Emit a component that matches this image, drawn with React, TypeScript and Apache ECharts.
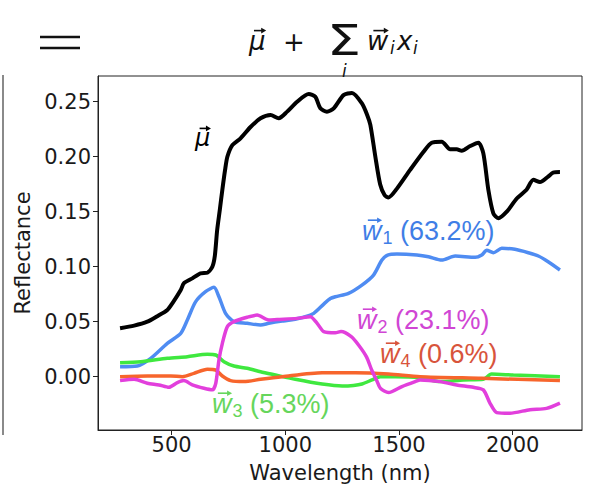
import React, { useEffect, useRef } from "react";
import * as echarts from "echarts";

// ---------- data ----------
const muWl = [273, 335, 393, 437, 481, 503, 540, 554, 591, 627, 657, 679, 690, 700, 712, 723, 735, 745, 767, 803, 847, 891, 935, 971, 1008, 1052, 1103, 1132, 1154, 1183, 1213, 1256, 1293, 1337, 1360, 1374, 1396, 1417, 1437, 1454, 1491, 1549, 1608, 1644, 1688, 1725, 1754, 1776, 1813, 1849, 1871, 1893, 1915, 1937, 1974, 2018, 2061, 2091, 2120, 2156, 2178, 2208];
const muVal = [0.044, 0.0464, 0.05, 0.055, 0.0606, 0.0667, 0.0788, 0.085, 0.0894, 0.094, 0.0945, 0.1, 0.11, 0.133, 0.152, 0.17, 0.188, 0.2, 0.2106, 0.2167, 0.227, 0.235, 0.238, 0.235, 0.241, 0.25, 0.257, 0.2545, 0.244, 0.241, 0.244, 0.256, 0.258, 0.2485, 0.238, 0.229, 0.2, 0.175, 0.165, 0.163, 0.171, 0.188, 0.2045, 0.2127, 0.2136, 0.2067, 0.2067, 0.2054, 0.2097, 0.2127, 0.203, 0.17, 0.1485, 0.144, 0.15, 0.162, 0.17, 0.179, 0.177, 0.182, 0.1855, 0.186];

const w1Wl = [273, 349, 408, 481, 540, 569, 605, 649, 686, 708, 737, 774, 832, 891, 927, 986, 1022, 1088, 1125, 1169, 1198, 1220, 1278, 1337, 1388, 1425, 1450, 1491, 1579, 1630, 1688, 1747, 1835, 1864, 1886, 1915, 1952, 2010, 2069, 2113, 2156, 2208];
const w1Val = [0.0091, 0.0097, 0.0167, 0.0303, 0.0394, 0.0515, 0.068, 0.0773, 0.0812, 0.0727, 0.0576, 0.05, 0.0485, 0.047, 0.0485, 0.0505, 0.0515, 0.0545, 0.0576, 0.066, 0.071, 0.0727, 0.0758, 0.0833, 0.0924, 0.106, 0.1105, 0.1115, 0.1106, 0.109, 0.106, 0.1097, 0.1085, 0.1106, 0.115, 0.1127, 0.1167, 0.1158, 0.1127, 0.1097, 0.1045, 0.097];

const w2Wl = [273, 335, 393, 444, 488, 525, 554, 591, 642, 679, 694, 708, 723, 745, 774, 832, 876, 927, 964, 1052, 1110, 1140, 1169, 1220, 1245, 1290, 1322, 1357, 1380, 1403, 1418, 1454, 1513, 1571, 1593, 1681, 1754, 1827, 1871, 1900, 1930, 1988, 2076, 2149, 2208];
const w2Val = [-0.0036, -0.0024, -0.006, -0.0075, -0.0097, -0.0055, -0.0036, -0.0075, -0.0106, -0.012, -0.006, 0.0152, 0.0303, 0.0455, 0.05, 0.054, 0.056, 0.0515, 0.052, 0.053, 0.0545, 0.0485, 0.041, 0.04, 0.041, 0.0364, 0.0288, 0.018, 0.006, -0.004, -0.0106, -0.0145, -0.009, -0.0045, -0.003, -0.0045, -0.0075, -0.0097, -0.012, -0.024, -0.0327, -0.0333, -0.03, -0.0288, -0.024];

const w3Wl = [273, 364, 481, 569, 657, 694, 730, 774, 832, 891, 957, 1044, 1162, 1250, 1300, 1337, 1381, 1418, 1484, 1593, 1681, 1783, 1871, 1907, 2003, 2208];
const w3Val = [0.0127, 0.0136, 0.0167, 0.0182, 0.0203, 0.0197, 0.0136, 0.0097, 0.0076, 0.0045, 0.0015, -0.0024, -0.0067, -0.0085, -0.008, -0.0067, -0.003, 0.0, 0.0, -0.001, -0.0045, -0.003, -0.0024, 0.0024, 0.0015, 0.0];

const w4Wl = [273, 393, 496, 547, 598, 657, 694, 723, 759, 818, 891, 986, 1162, 1308, 1454, 1593, 1864, 2208];
const w4Val = [0.0, 0.0006, 0.0006, 0.0, 0.003, 0.0067, 0.006, 0.0006, -0.0036, -0.0045, -0.0024, 0.0, 0.0036, 0.0036, 0.0024, 0.0, -0.0015, -0.0036];

const xTickValues = [500, 1000, 1500, 2000];
const yTickValues = [0, 0.05, 0.1, 0.15, 0.2, 0.25];

const LINE_COLORS = { mu: "#000000", w1: "#4f8cf2", w2: "#e23fdc", w3: "#3fe83f", w4: "#f7652c" };
const TEXT_COLORS = { w1: "#3f7ee6", w2: "#d046d4", w3: "#66d65c", w4: "#d8543c" };

const pairs = (wl: number[], v: number[]) => wl.map((w, i) => [w, v[i]]);

let mctx: CanvasRenderingContext2D | null = null;
function measure(t: string, font: string) {
  if (!mctx) mctx = document.createElement("canvas").getContext("2d");
  mctx!.font = font;
  return mctx!.measureText(t).width;
}

function arrow(x1: number, x2: number, y: number, color: string) {
  return [
    { type: "line", shape: { x1, y1: y, x2: x2 - 2, y2: y }, style: { stroke: color, lineWidth: 1.6 } },
    { type: "polygon", shape: { points: [[x2 + 1, y], [x2 - 4, y - 2.8], [x2 - 4, y + 2.8]] }, style: { fill: color } },
  ];
}

function vecLabel(x: number, y: number, letter: string, sub: string, rest: string, color: string, fs: number, family: string) {
  const els: any[] = [];
  const itFont = `italic ${fs}px "${family}"`;
  const lw = measure(letter, itFont);
  els.push({ type: "text", x, y, style: { text: letter, fontSize: fs, fontFamily: family, fontStyle: "italic", fill: color, align: "left", verticalAlign: "middle" } });
  els.push(...arrow(x + lw * 0.3, x + lw * 0.98, y - fs * 0.4, color));
  let cx = x + lw + 1;
  if (sub) {
    const sfs = Math.round(fs * 0.65);
    els.push({ type: "text", x: cx, y: y + fs * 0.27, style: { text: sub, fontSize: sfs, fontFamily: family, fill: color, align: "left", verticalAlign: "middle" } });
    cx += measure(sub, `${sfs}px "${family}"`);
  }
  if (rest) {
    els.push({ type: "text", x: cx, y, style: { text: rest, fontSize: fs, fontFamily: family, fill: color, align: "left", verticalAlign: "middle" } });
  }
  return els;
}

export default function App() {
  const ref = useRef<HTMLDivElement>(null);
  useEffect(() => {
    const chart = echarts.init(ref.current!, undefined, { renderer: "svg" });
    const FONT = "DejaVu Sans";
    const ANN = "Liberation Sans";
    const dark = "#1a1a1a";
    const mk = (name: string, wl: number[], v: number[], color: string, w: number) => ({
      name, type: "line", data: pairs(wl, v), showSymbol: false, smooth: 0.25,
      lineStyle: { color, width: w }, itemStyle: { color }, z: 2,
    });

    const titleEls: any[] = [
      // "=" sign
      { type: "line", shape: { x1: 40, y1: 37, x2: 80, y2: 37 }, style: { stroke: "#111", lineWidth: 2.6 } },
      { type: "line", shape: { x1: 40, y1: 48, x2: 80, y2: 48 }, style: { stroke: "#111", lineWidth: 2.6 } },
      ...vecLabel(249, 41, "μ", "", "", "#111", 26, FONT),
      { type: "text", x: 283, y: 42, style: { text: "+", fontSize: 26, fontFamily: FONT, fill: "#111", align: "left", verticalAlign: "middle" } },
      { type: "text", x: 327, y: 40, scaleX: 1.25, style: { text: "Σ", fontSize: 43, fontFamily: FONT, fill: "#111", align: "left", verticalAlign: "middle" } },
      { type: "text", x: 342, y: 71, style: { text: "i", fontSize: 17, fontFamily: FONT, fontStyle: "italic", fill: "#111", align: "left", verticalAlign: "middle" } },
      ...vecLabel(367, 41, "w", "", "", "#111", 26, FONT),
      { type: "text", x: 390, y: 48, style: { text: "i", fontSize: 17, fontFamily: FONT, fontStyle: "italic", fill: "#111", align: "left", verticalAlign: "middle" } },
      { type: "text", x: 397, y: 41, style: { text: "x", fontSize: 26, fontFamily: FONT, fontStyle: "italic", fill: "#111", align: "left", verticalAlign: "middle" } },
      { type: "text", x: 413, y: 48, style: { text: "i", fontSize: 17, fontFamily: FONT, fontStyle: "italic", fill: "#111", align: "left", verticalAlign: "middle" } },
      // left bracket line of outer frame
      { type: "line", shape: { x1: 3, y1: 75, x2: 3, y2: 435 }, style: { stroke: "#8a8a8a", lineWidth: 2 } },
    ];

    const annEls: any[] = [
      ...vecLabel(195, 138, "μ", "", "", "#000", 24, FONT),
      ...vecLabel(362, 231, "w", "1", " (63.2%)", TEXT_COLORS.w1, 27, ANN),
      ...vecLabel(357, 320, "w", "2", " (23.1%)", TEXT_COLORS.w2, 27, ANN),
      ...vecLabel(380, 354, "w", "4", " (0.6%)", TEXT_COLORS.w4, 27, ANN),
      ...vecLabel(212, 404, "w", "3", " (5.3%)", TEXT_COLORS.w3, 27, ANN),
    ];

    chart.setOption({
      animation: false,
      backgroundColor: "#ffffff",
      grid: { left: 98, top: 76, right: 8, bottom: 68, show: true, borderColor: "#222", borderWidth: 1, containLabel: false },
      xAxis: {
        type: "value", min: 176, max: 2305,
        axisLine: { show: true, onZero: false, lineStyle: { color: "#222", width: 1 } },
        axisTick: { show: true, inside: false, length: 5, customValues: xTickValues, lineStyle: { color: "#222" } },
        axisLabel: { customValues: xTickValues, formatter: (v: number) => String(v), fontSize: 21, fontFamily: FONT, color: dark, margin: 4 },
        splitLine: { show: false },
        name: "Wavelength (nm)", nameLocation: "middle", nameGap: 32,
        nameTextStyle: { fontSize: 21, fontFamily: FONT, color: dark },
      },
      yAxis: {
        type: "value", min: -0.0485, max: 0.2734,
        axisLine: { show: true, onZero: false, lineStyle: { color: "#222", width: 1 } },
        axisTick: { show: true, inside: false, length: 5, customValues: yTickValues, lineStyle: { color: "#222" } },
        axisLabel: { customValues: yTickValues, formatter: (v: number) => v.toFixed(2), fontSize: 21, fontFamily: FONT, color: dark, margin: 7 },
        splitLine: { show: false },
        name: "Reflectance", nameLocation: "middle", nameGap: 64,
        nameTextStyle: { fontSize: 21, fontFamily: FONT, color: dark },
      },
      series: [
        mk("mu", muWl, muVal, LINE_COLORS.mu, 4),
        mk("w1", w1Wl, w1Val, LINE_COLORS.w1, 3.5),
        mk("w3", w3Wl, w3Val, LINE_COLORS.w3, 3.5),
        mk("w4", w4Wl, w4Val, LINE_COLORS.w4, 3.5),
        mk("w2", w2Wl, w2Val, LINE_COLORS.w2, 3.5),
      ],
      graphic: [...titleEls, ...annEls],
    });
    return () => chart.dispose();
  }, []);
  return <div ref={ref} style={{ position: "fixed", left: 0, top: 0, width: 590, height: 498, background: "#fff" }} />;
}
